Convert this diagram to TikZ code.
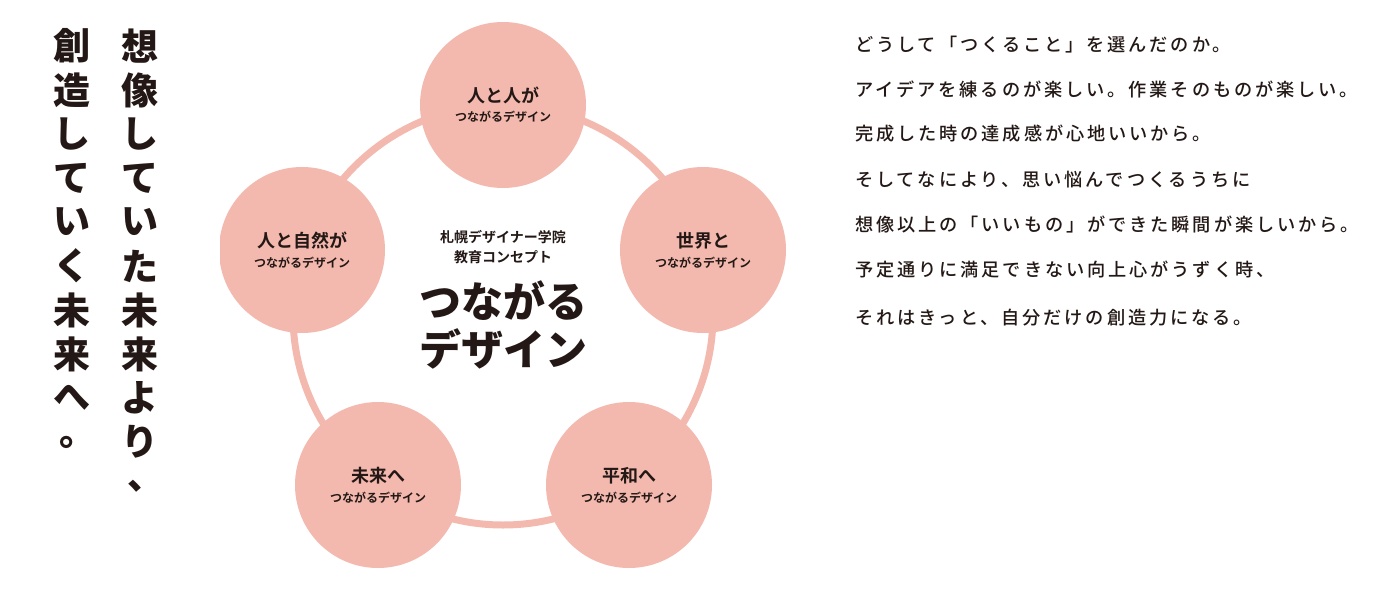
\documentclass[tikz,border=0pt]{standalone}
\usepackage{fontspec}
\newfontfamily\jpb{Noto Sans CJK JP Bold}
\newfontfamily\jpm[LetterSpace=16]{Noto Sans CJK JP Medium}
\newfontfamily\jpk{Noto Sans CJK JP Black}
\definecolor{pk}{HTML}{F4B9AE}
\definecolor{ink}{HTML}{231815}
\begin{document}
\begin{tikzpicture}[x=1pt,y=-1pt,
  petal/.style={circle,fill=pk,minimum size=166pt,inner sep=0pt,align=center,text=ink},
  vch/.style={font=\jpk\fontsize{37}{37}\selectfont,text=ink,inner sep=0pt},
  para/.style={anchor=west,font=\jpm\fontsize{18.2}{20}\selectfont,text=ink,inner sep=0pt}]
\useasboundingbox (0,0) rectangle (1400,600);
\coordinate (c) at (503,315);
\draw[pk,line width=7pt] (c) circle (210);
\begin{scope}
\clip (220,0) rectangle (1400,600);
\node[petal] (p1) at (503,105) {{\jpb\fontsize{18}{20}\selectfont 人と人が}\\[7pt]{\jpb\fontsize{12}{13}\selectfont つながるデザイン}};
\node[petal] (p2) at (703,250) {{\jpb\fontsize{18}{20}\selectfont 世界と}\\[7pt]{\jpb\fontsize{12}{13}\selectfont つながるデザイン}};
\node[petal] (p3) at (629,485) {{\jpb\fontsize{18}{20}\selectfont 平和へ}\\[7pt]{\jpb\fontsize{12}{13}\selectfont つながるデザイン}};
\node[petal] (p4) at (378,485) {{\jpb\fontsize{18}{20}\selectfont 未来へ}\\[7pt]{\jpb\fontsize{12}{13}\selectfont つながるデザイン}};
\node[petal] (p5) at (302,250) {{\jpb\fontsize{18}{20}\selectfont 人と自然が}\\[7pt]{\jpb\fontsize{12}{13}\selectfont つながるデザイン}};
\end{scope}
\node[align=center,text=ink,font=\jpb\fontsize{14}{20}\selectfont] (t1) at (503,247) {札幌デザイナー学院\\教育コンセプト};
\node[align=center,text=ink,font=\jpk\fontsize{42}{48}\selectfont] (t2) at (503,325) {つながる\\デザイン};
% vertical text
\foreach \ch [count=\i] in {想,像,し,て,い,た,未,来,よ,り}
  \node[vch] (r\i) at (140,{46+44*(\i-1)}) {\ch};
\node[vch] (r11) at (146,486) {、};
\foreach \ch [count=\i] in {創,造,し,て,い,く,未,来,へ}
  \node[vch] (l\i) at (72,{46+44*(\i-1)}) {\ch};
\node[vch] (l10) at (78,442) {。};
% paragraph
\node[para] (s1) at (855,45) {どうして「つくること」を選んだのか。};
\node[para] (s2) at (855,89) {アイデアを練るのが楽しい。作業そのものが楽しい。};
\node[para] (s3) at (855,134) {完成した時の達成感が心地いいから。};
\node[para] (s4) at (855,180) {そしてなにより、思い悩んでつくるうちに};
\node[para] (s5) at (855,225) {想像以上の「いいもの」ができた瞬間が楽しいから。};
\node[para] (s6) at (855,270) {予定通りに満足できない向上心がうずく時、};
\node[para] (s7) at (855,318) {それはきっと、自分だけの創造力になる。};
\end{tikzpicture}
\end{document}
